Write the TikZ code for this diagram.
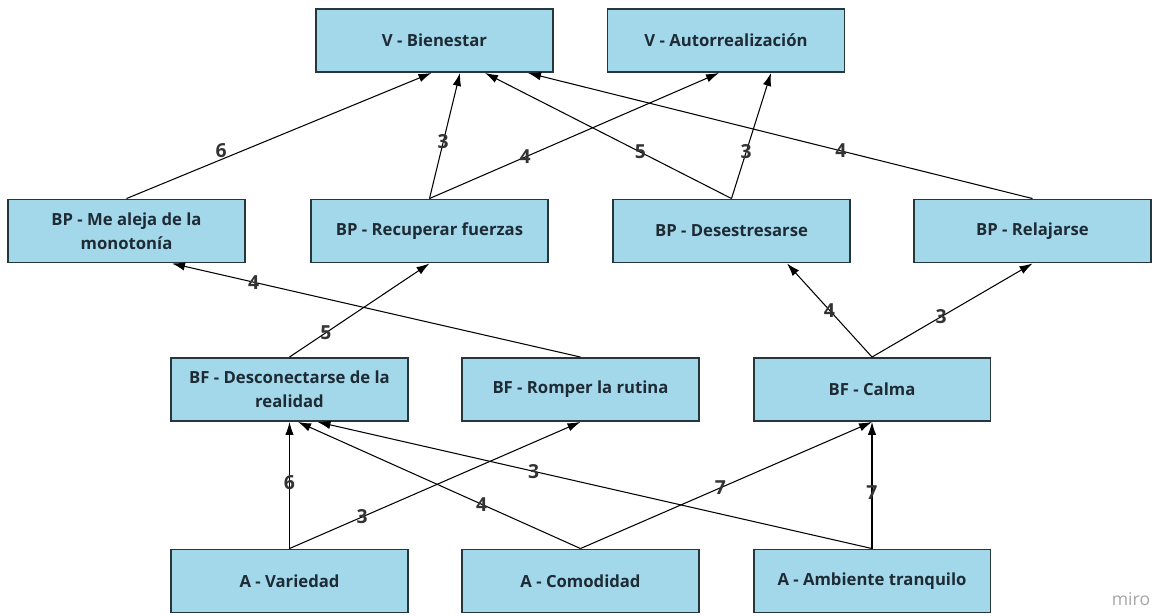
\documentclass[tikz,border=0pt]{standalone}
\usepackage{fontspec}
\setmainfont{Open Sans}
\usepackage{xcolor}
\usetikzlibrary{arrows.meta,calc}
\definecolor{boxfill}{HTML}{A3D8EA}
\definecolor{boxline}{HTML}{26363D}
\definecolor{boxtext}{HTML}{1E2B35}

\begin{document}
\begin{tikzpicture}[x=0.02cm,y=-0.02cm,
        caja/.style={draw=boxline,line width=1.1pt,fill=boxfill,minimum width=4.74cm,minimum height=1.26cm,
            align=center,inner sep=0pt,text=boxtext,font=\bfseries\fontsize{9.5}{13.5}\selectfont},
        flecha/.style={-{Latex[length=2.6mm,width=1.7mm]},line width=0.6pt},
        peso/.style={inner sep=0pt,text=black!80,font=\bfseries\fontsize{11}{11}\selectfont}]
            \useasboundingbox (0,0) rectangle (1152,615);
            % valores
            \node[caja] (bien) at (434.5,40.5) {V - Bienestar};
            \node[caja] (auto) at (726,40.5) {V - Autorrealización};
            % beneficios psicologicos
            \node[caja] (aleja) at (126.5,231) {BP - Me aleja de la\\monotonía};
            \node[caja] (recup) at (429.5,231) {BP - Recuperar fuerzas};
            \node[caja] (deses) at (731.5,231) {BP - Desestresarse};
            \node[caja] (relaj) at (1032.5,231) {BP - Relajarse};
            % beneficios funcionales
            \node[caja] (desco) at (289.5,389.5) {BF - Desconectarse de la\\realidad};
            \node[caja] (rutina) at (580.5,389.5) {BF - Romper la rutina};
            \node[caja] (calma) at (872,389.5) {BF - Calma};
            % atributos
            \node[caja] (vari) at (289.5,581) {A - Variedad};
            \node[caja] (comod) at (580.5,581) {A - Comodidad};
            \node[caja] (ambie) at (872,581) {A - Ambiente tranquilo};
            \node[text=black!35,font=\fontsize{10}{10}\selectfont] (miro) at (1131,599) {miro};
            % BP -> V
            \draw[flecha] (aleja.north) -- node[peso,pos=0.31,above=1pt] {6} ($(bien.south)+(-3,0)$);
            \draw[flecha] (recup.north) -- node[peso,pos=0.45] {3} ($(bien.south)+(25.5,0)$);
            \draw[flecha] (recup.north) -- node[peso,pos=0.33] {4} ($(auto.south)+(-7,0)$);
            \draw[flecha] (deses.north) -- node[peso,pos=0.37] {5} ($(bien.south)+(50.5,0)$);
            \draw[flecha] (deses.north) -- node[peso,pos=0.37] {3} ($(auto.south)+(45,0)$);
            \draw[flecha] (relaj.north) -- node[peso,pos=0.38] {4} ($(bien.south)+(93.5,0)$);
            % BF -> BP
            \draw[flecha] (desco.north) -- node[peso,pos=0.26] {5} (recup.south);
            \draw[flecha] (rutina.north) -- node[peso,pos=0.8] {4} ($(aleja.south)+(45.5,0)$);
            \draw[flecha] (calma.north) -- node[peso,pos=0.5] {4} ($(deses.south)+(55.5,0)$);
            \draw[flecha] (calma.north) -- node[peso,pos=0.43] {3} (relaj.south);
            % A -> BF
            \draw[flecha] (vari.north) -- node[peso,pos=0.52] {6} (desco.south);
            \draw[flecha] (vari.north) -- node[peso,pos=0.25] {3} (rutina.south);
            \draw[flecha] (comod.north) -- node[peso,pos=0.35] {4} ($(desco.south)+(8.5,0)$);
            \draw[flecha] (ambie.north) -- node[peso,pos=0.61] {3} ($(desco.south)+(28,0)$);
            \draw[flecha] (comod.north) -- node[peso,pos=0.48] {7} (calma.south);
            \draw[flecha] (ambie.north) -- node[peso,pos=0.44] {7} (calma.south);
        \end{tikzpicture}
\end{document}
